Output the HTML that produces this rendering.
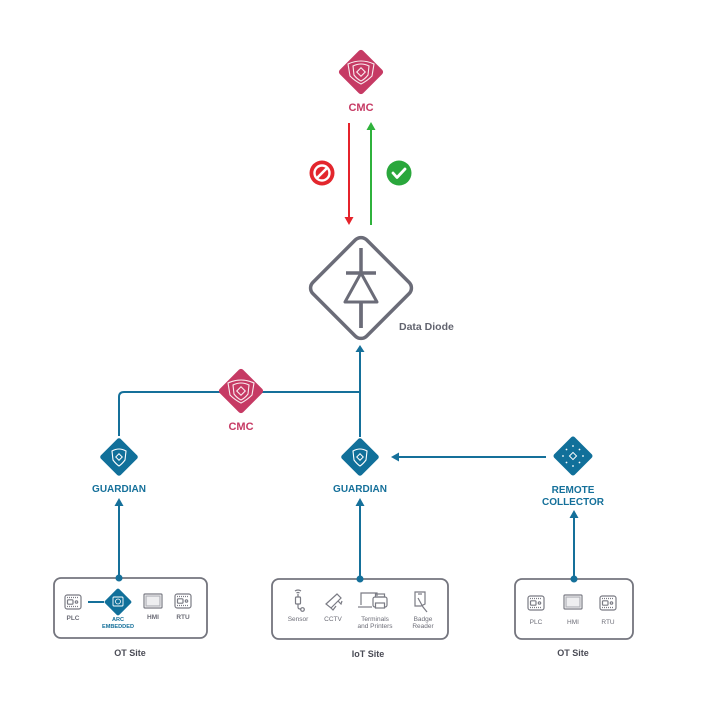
<!DOCTYPE html>
<html><head><meta charset="utf-8"><style>
html,body{margin:0;padding:0;background:#fff;}
svg{display:block;}
text{font-family:"Liberation Sans",sans-serif;}
</style></head><body>
<svg width="703" height="703" viewBox="0 0 703 703" xmlns="http://www.w3.org/2000/svg">
<rect width="703" height="703" fill="#fff"/>

<!-- Top CMC -->
<g transform="translate(361,72)">
  <rect x="-16.5" y="-16.5" width="33" height="33" rx="3" fill="#c63a64" transform="rotate(45)"/>
  <g fill="none" stroke="#fff" stroke-width="1.1" opacity="0.9">
    <path d="M-13,-8 Q0,-14 13,-8 L11,4 Q6,9 0,12 Q-6,9 -11,4 Z"/>
    <path d="M-8,-6 Q0,-10 8,-6 L7,3 Q4,7 0,9 Q-4,7 -7,3 Z"/>
    <rect x="-3" y="-3" width="6" height="6" transform="rotate(45)"/>
  </g>
</g>
<text x="361" y="111" text-anchor="middle" font-size="11" font-weight="bold" fill="#c63a64">CMC</text>

<!-- red arrow down -->
<line x1="349" y1="123" x2="349" y2="218" stroke="#e5232b" stroke-width="2"/>
<polygon points="344.5,217 353.5,217 349,225" fill="#e5232b"/>
<!-- green arrow up -->
<line x1="371" y1="225" x2="371" y2="129" stroke="#2fb23c" stroke-width="2"/>
<polygon points="366.5,130 375.5,130 371,122" fill="#2fb23c"/>

<!-- red no icon -->
<g transform="translate(322,173)">
  <circle r="12.5" fill="#e3262d"/>
  <circle r="7.5" fill="none" stroke="#fff" stroke-width="2.4"/>
  <line x1="-5.5" y1="5.5" x2="5.5" y2="-5.5" stroke="#fff" stroke-width="2.6"/>
</g>
<!-- green check -->
<g transform="translate(399,173)">
  <circle r="12.5" fill="#2aa73c"/>
  <path d="M-6,0 L-2,4.5 L6,-4" fill="none" stroke="#fff" stroke-width="2.8" stroke-linecap="round" stroke-linejoin="round"/>
</g>

<!-- Data Diode -->
<g transform="translate(361,288)">
  <rect x="-38" y="-38" width="76" height="76" rx="8" fill="#fff" stroke="#6b6c78" stroke-width="3.5" transform="rotate(45)"/>
  <line x1="0" y1="-40" x2="0" y2="40" stroke="#6b6c78" stroke-width="3.5"/>
  <line x1="-15" y1="-15" x2="15" y2="-15" stroke="#6b6c78" stroke-width="3.5"/>
  <polygon points="0,-15 -16,14 16,14" fill="#fff" stroke="#6b6c78" stroke-width="3" stroke-linejoin="round"/>
  <line x1="0" y1="14" x2="0" y2="40" stroke="#6b6c78" stroke-width="3.5"/>
</g>
<text x="399" y="330" font-size="10.5" font-weight="bold" fill="#62646f">Data Diode</text>

<!-- teal connectors -->
<g stroke="#15709a" stroke-width="2" fill="none">
  <path d="M119,436 V397 Q119,392 124,392 H360"/>
  <line x1="360" y1="351" x2="360" y2="437"/>
  <line x1="546" y1="457" x2="398" y2="457"/>
  <line x1="119" y1="579" x2="119" y2="505"/>
  <line x1="360" y1="579" x2="360" y2="505"/>
  <line x1="574" y1="579" x2="574" y2="518"/>
  <line x1="88" y1="602" x2="104" y2="602"/>
</g>
<g fill="#15709a">
  <polygon points="355.5,352 364.5,352 360,345"/>
  <polygon points="399,452.5 399,461.5 391,457"/>
  <polygon points="114.5,506 123.5,506 119,498"/>
  <polygon points="355.5,506 364.5,506 360,498"/>
  <polygon points="569.5,518 578.5,518 574,510"/>
</g>

<!-- middle CMC -->
<g transform="translate(241,391)">
  <rect x="-16.5" y="-16.5" width="33" height="33" rx="3" fill="#c63a64" transform="rotate(45)"/>
  <g fill="none" stroke="#fff" stroke-width="1.1" opacity="0.9">
    <path d="M-13,-8 Q0,-14 13,-8 L11,4 Q6,9 0,12 Q-6,9 -11,4 Z"/>
    <path d="M-8,-6 Q0,-10 8,-6 L7,3 Q4,7 0,9 Q-4,7 -7,3 Z"/>
    <rect x="-3" y="-3" width="6" height="6" transform="rotate(45)"/>
  </g>
</g>
<text x="241" y="430" text-anchor="middle" font-size="11" font-weight="bold" fill="#c63a64">CMC</text>

<!-- Guardians -->
<g transform="translate(119,457)">
  <rect x="-14" y="-14" width="28" height="28" rx="2.5" fill="#11709a" transform="rotate(45)"/>
  <path d="M-7,-6 Q0,-10 7,-6 L6,3 Q3,7 0,9 Q-3,7 -6,3 Z" fill="none" stroke="#fff" stroke-width="1.1"/>
  <rect x="-2.3" y="-2.3" width="4.6" height="4.6" fill="none" stroke="#fff" stroke-width="1" transform="rotate(45)"/>
</g>
<text x="119" y="492" text-anchor="middle" font-size="10" font-weight="bold" fill="#15709a">GUARDIAN</text>
<g transform="translate(360,457)">
  <rect x="-14" y="-14" width="28" height="28" rx="2.5" fill="#11709a" transform="rotate(45)"/>
  <path d="M-7,-6 Q0,-10 7,-6 L6,3 Q3,7 0,9 Q-3,7 -6,3 Z" fill="none" stroke="#fff" stroke-width="1.1"/>
  <rect x="-2.3" y="-2.3" width="4.6" height="4.6" fill="none" stroke="#fff" stroke-width="1" transform="rotate(45)"/>
</g>
<text x="360" y="492" text-anchor="middle" font-size="10" font-weight="bold" fill="#15709a">GUARDIAN</text>

<!-- Remote collector -->
<g transform="translate(573,456)">
  <rect x="-14.5" y="-14.5" width="29" height="29" rx="2.5" fill="#11709a" transform="rotate(45)"/>
  <rect x="-2.5" y="-2.5" width="5" height="5" fill="none" stroke="#fff" stroke-width="1" transform="rotate(45)"/>
  <g fill="#fff">
    <circle cx="0" cy="-10" r="0.9"/><circle cx="0" cy="10" r="0.9"/>
    <circle cx="-10" cy="0" r="0.9"/><circle cx="10" cy="0" r="0.9"/>
    <circle cx="-6.5" cy="-6.5" r="0.9"/><circle cx="6.5" cy="-6.5" r="0.9"/>
    <circle cx="-6.5" cy="6.5" r="0.9"/><circle cx="6.5" cy="6.5" r="0.9"/>
  </g>
</g>
<text x="573" y="493" text-anchor="middle" font-size="10" font-weight="bold" fill="#15709a">REMOTE</text>
<text x="573" y="505" text-anchor="middle" font-size="10" font-weight="bold" fill="#15709a">COLLECTOR</text>

<!-- Boxes -->
<g fill="none" stroke="#74757e" stroke-width="1.8">
  <rect x="54" y="578" width="153" height="60" rx="7"/>
  <rect x="272" y="579" width="176" height="60" rx="7"/>
  <rect x="515" y="579" width="118" height="60" rx="7"/>
</g>
<g fill="#15709a">
  <circle cx="119" cy="578" r="3.5"/>
  <circle cx="360" cy="579" r="3.5"/>
  <circle cx="574" cy="579" r="3.5"/>
</g>

<!-- device icon defs -->
<defs>
  <g id="plc" fill="none" stroke="#7a7b84" stroke-width="1.2">
    <rect x="-8" y="-7" width="16" height="14" rx="2.2"/>
    <line x1="-6" y1="-4.5" x2="6" y2="-4.5" stroke-dasharray="1,1"/>
    <line x1="-6" y1="4.5" x2="6" y2="4.5" stroke-dasharray="1,1"/>
    <rect x="-5.5" y="-2.2" width="5.5" height="4.4" rx="0.8"/>
    <circle cx="3.5" cy="0" r="1.2"/>
  </g>
  <g id="hmi" fill="none" stroke="#7a7b84" stroke-width="1.2">
    <rect x="-9" y="-7" width="18" height="14" rx="1"/>
    <rect x="-7" y="-5" width="14" height="10" fill="#eeeef0" stroke="#b0b1b7"/>
  </g>
</defs>

<!-- Left OT site -->
<use href="#plc" x="73" y="602"/>
<text x="73" y="620" text-anchor="middle" font-size="6.5" font-weight="bold" fill="#6c6d77">PLC</text>
<g transform="translate(118,602)">
  <rect x="-10" y="-10" width="20" height="20" rx="2" fill="#11709a" transform="rotate(45)"/>
  <rect x="-5" y="-5" width="10" height="9" rx="1" fill="none" stroke="#fff" stroke-width="0.9"/>
  <circle cx="0" cy="-0.5" r="2.5" fill="none" stroke="#fff" stroke-width="0.8"/>
</g>
<text x="118" y="621" text-anchor="middle" font-size="5.6" font-weight="bold" fill="#15709a">ARC</text>
<text x="118" y="628" text-anchor="middle" font-size="5.6" font-weight="bold" fill="#15709a">EMBEDDED</text>
<use href="#hmi" x="153" y="601"/>
<text x="153" y="619" text-anchor="middle" font-size="6.5" font-weight="bold" fill="#6c6d77">HMI</text>
<use href="#plc" x="183" y="601"/>
<text x="183" y="619" text-anchor="middle" font-size="6.5" font-weight="bold" fill="#6c6d77">RTU</text>
<text x="130" y="656" text-anchor="middle" font-size="9" font-weight="bold" fill="#4a4b55">OT Site</text>

<!-- IoT site -->
<g fill="none" stroke="#7a7b84" stroke-width="1.2">
  <!-- sensor -->
  <path d="M295,591 Q298,589 301,591 M296.5,593 Q298,592 299.5,593"/>
  <line x1="298" y1="594" x2="298" y2="597"/>
  <rect x="295.5" y="597" width="5" height="7" rx="1"/>
  <path d="M298,604 V607 Q298,609 300,609 H301"/>
  <circle cx="302.5" cy="609.5" r="1.8"/>
  <!-- cctv -->
  <path d="M326,604 L337,594 L341,598 L331,608 Z"/>
  <path d="M331,608 L333,610 L336,606"/>
  <path d="M338,601 L341,604 L342,601"/>
  <!-- terminals and printers -->
  <path d="M361,605 V593 H377 V596"/>
  <path d="M358,607 H372"/>
  <rect x="373" y="597" width="14" height="10" rx="2"/>
  <rect x="375.5" y="594" width="9" height="3"/>
  <rect x="375.5" y="603" width="9" height="5" fill="#fff"/>
  <!-- badge reader -->
  <path d="M415,592 H425 V604 L421,606 H415 Z"/>
  <path d="M418,598 L423,607 L427,612"/>
  <path d="M418,594 H422"/>
</g>
<text x="298" y="621" text-anchor="middle" font-size="6.5" fill="#6c6d77">Sensor</text>
<text x="333" y="621" text-anchor="middle" font-size="6.5" fill="#6c6d77">CCTV</text>
<text x="375" y="621" text-anchor="middle" font-size="6.5" fill="#6c6d77">Terminals</text>
<text x="375" y="628" text-anchor="middle" font-size="6.5" fill="#6c6d77">and Printers</text>
<text x="423" y="621" text-anchor="middle" font-size="6.5" fill="#6c6d77">Badge</text>
<text x="423" y="628" text-anchor="middle" font-size="6.5" fill="#6c6d77">Reader</text>
<text x="368" y="657" text-anchor="middle" font-size="9" font-weight="bold" fill="#4a4b55">IoT Site</text>

<!-- Right OT site -->
<use href="#plc" x="536" y="603"/>
<text x="536" y="624" text-anchor="middle" font-size="6.5" fill="#6c6d77">PLC</text>
<use href="#hmi" x="573" y="602"/>
<text x="573" y="624" text-anchor="middle" font-size="6.5" fill="#6c6d77">HMI</text>
<use href="#plc" x="608" y="603"/>
<text x="608" y="624" text-anchor="middle" font-size="6.5" fill="#6c6d77">RTU</text>
<text x="573" y="656" text-anchor="middle" font-size="9" font-weight="bold" fill="#4a4b55">OT Site</text>
</svg>
</body></html>
